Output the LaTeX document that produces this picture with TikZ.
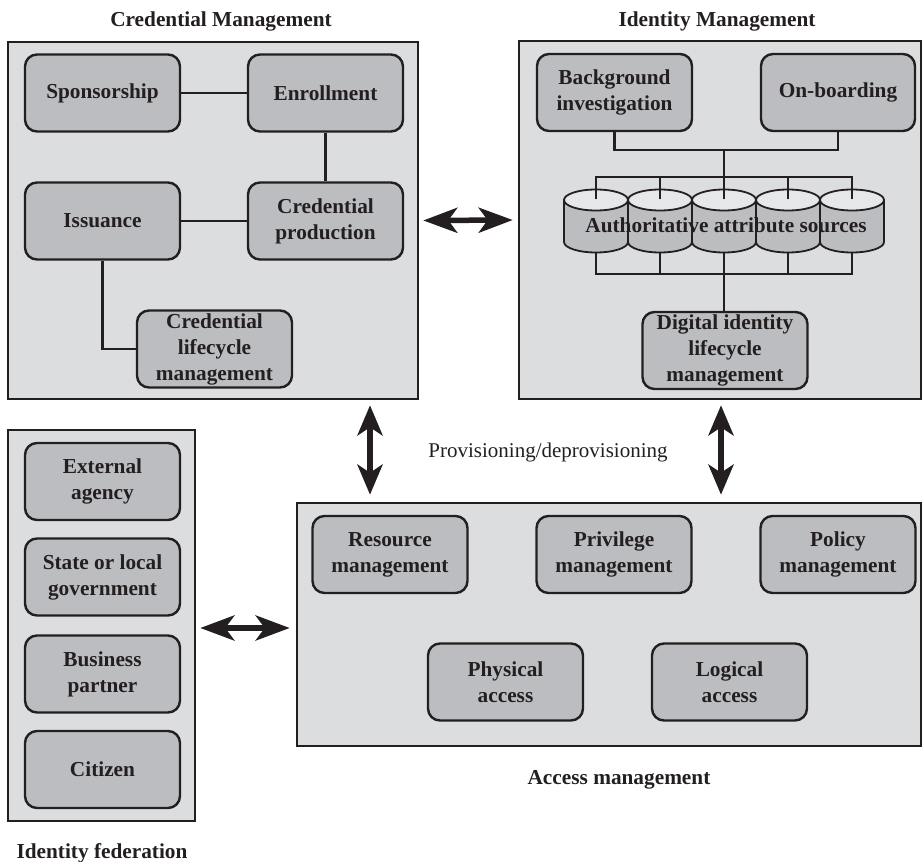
\documentclass[tikz,border=0pt]{standalone}
\usepackage{fontspec}
\setmainfont{Liberation Serif}
\usetikzlibrary{arrows.meta}
\definecolor{ink}{HTML}{231F20}
\definecolor{panelgray}{HTML}{DCDDDF}
\definecolor{boxgray}{HTML}{BCBDC0}
\definecolor{toplight}{HTML}{E6E7E8}
\newcommand{\lblfont}{\fontsize{21.3}{26}\selectfont\bfseries}
\newcommand{\plainfont}{\fontsize{21}{26}\selectfont}
\begin{document}
\begin{tikzpicture}[x=1pt,y=-1pt,
  panel/.style={draw=ink, line width=2.6pt, fill=panelgray, inner sep=0pt},
  unit/.style={draw=ink, line width=2.4pt, fill=boxgray, rounded corners=12pt,
    minimum width=155pt, minimum height=77pt, inner sep=0pt, align=center,
    font=\lblfont, text=ink},
  heading/.style={font=\lblfont, text=ink, inner sep=0pt},
  link/.style={draw=ink, line width=2.4pt},
  hdbl/.style={draw=ink, fill=ink, line width=5.5pt,
    {Stealth[length=34pt,width=25pt,inset=9pt]}-{Stealth[length=34pt,width=25pt,inset=9pt]}},
  vdbl/.style={draw=ink, fill=ink, line width=5.5pt,
    {Stealth[length=30pt,width=25pt,inset=8pt]}-{Stealth[length=30pt,width=25pt,inset=8pt]}},
  cylbody/.style={draw=ink, line width=1.8pt, fill=boxgray},
  cyltop/.style={draw=ink, line width=1.8pt, fill=toplight}
]
\useasboundingbox (0,0) rectangle (924,862);

% ---- panels ----
\node[panel, minimum width=410pt, minimum height=357pt] (cred) at (213,220.5) {};
\node[panel, minimum width=402pt, minimum height=358pt] (idm)  at (720,220) {};
\node[panel, minimum width=187pt, minimum height=391pt] (fed)  at (101.5,625.5) {};
\node[panel, minimum width=624pt, minimum height=243pt] (acc)  at (609,624.5) {};

% ---- headings ----
\node[heading] (tcred) at (221,21)  {Credential Management};
\node[heading] (tidm)  at (717,21)  {Identity Management};
\node[heading] (tacc)  at (619,780) {Access management};
\node[heading] (tfed)  at (102,853) {Identity federation};

% ---- credential management ----
\node[unit] (spons) at (102.5,93)  {Sponsorship};
\node[unit] (enrol) at (325.5,93)  {Enrollment};
\node[unit] (issue) at (102.5,221) {Issuance};
\node[unit] (prod)  at (325.5,221) {Credential\\production};
\node[unit] (clife) at (214.5,349) {Credential\\lifecycle\\management};

\draw[link] (spons.east) -- (enrol.west);
\draw[link] (enrol.south) -- (prod.north);
\draw[link] (issue.east) -- (prod.west);
\draw[link] (issue.south) |- (clife.west);

% ---- identity management ----
\node[unit] (bgi) at (614.5,92.5) {Background\\investigation};
\node[unit, minimum width=154pt] (onb) at (838,92.5) {On-boarding};
\node[unit, minimum width=165pt] (dil) at (725,350.5) {Digital identity\\lifecycle\\management};

% attribute source cylinders
\foreach \i in {0,...,4}{
  \pgfmathsetmacro{\cx}{596+64*\i}
  \draw[cylbody] (\cx-32,200) -- (\cx-32,242)
    arc[start angle=180, end angle=360, x radius=32pt, y radius=10.5pt]
    -- (\cx+32,200) -- cycle;
  \draw[cyltop] (\cx,200) ellipse[x radius=32pt, y radius=10.5pt];
  \coordinate (ct\i) at (\cx,199);
  \coordinate (cb\i) at (\cx,252.5);
}
\node[heading] (aas) at (726,225) {Authoritative attribute sources};

\coordinate (join) at (725,150);
\coordinate (topbus) at (724,177);
\coordinate (botbus) at (724,274);
\draw[link] (bgi.south) |- (join) -| (onb.south);
\draw[link] (join -| topbus) -- (topbus);
\draw[link] (ct0) -- (ct0 |- topbus) -- (ct4 |- topbus) -- (ct4);
\foreach \i in {1,2,3}{ \draw[link] (ct\i) -- (ct\i |- topbus); }
\draw[link] (cb0) -- (cb0 |- botbus) -- (cb4 |- botbus) -- (cb4);
\foreach \i in {1,2,3}{ \draw[link] (cb\i) -- (cb\i |- botbus); }
\draw[link] (botbus) -- (dil.north -| botbus);

% ---- identity federation ----
\node[unit] (ext)  at (102.5,481.5) {External\\agency};
\node[unit] (state) at (102.5,577) {State or local\\government};
\node[unit] (biz)  at (102.5,674) {Business\\partner};
\node[unit] (cit)  at (102.5,769.5) {Citizen};

% ---- access management ----
\node[unit] (res)  at (390,554.5) {Resource\\management};
\node[unit] (priv) at (614,554.5) {Privilege\\management};
\node[unit] (pol)  at (838,554.5) {Policy\\management};
\node[unit] (phys) at (505.5,682) {Physical\\access};
\node[unit] (logi) at (729.5,682) {Logical\\access};

% ---- exchanges between the four areas ----
\node[font=\plainfont, text=ink, inner sep=0pt] (prov) at (548,452) {Provisioning/deprovisioning};
\coordinate (vl) at (370,0);
\coordinate (vr) at (721,0);
\coordinate (hl) at (0,628);
\draw[hdbl, shorten <=4pt, shorten >=5pt] (cred.east) -- (idm.west);
\draw[vdbl, shorten <=5pt, shorten >=7pt] (cred.south -| vl) -- (acc.north -| vl);
\draw[vdbl, shorten <=5pt, shorten >=7pt] (idm.south -| vr) -- (acc.north -| vr);
\draw[hdbl, shorten <=4pt, shorten >=6pt] (fed.east |- hl) -- (acc.west |- hl);
\end{tikzpicture}
\end{document}
